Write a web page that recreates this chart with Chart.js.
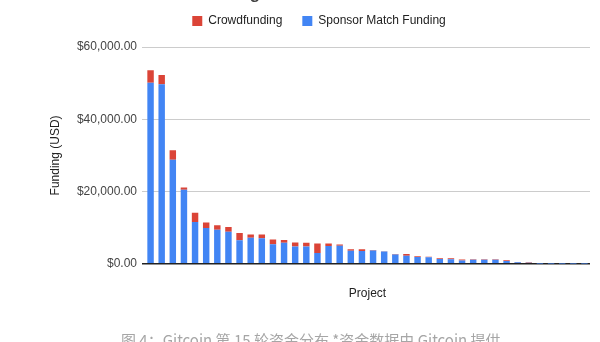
<!DOCTYPE html>
<html>
<head>
<meta charset="utf-8">
<title>GR15 Funding Distribution</title>
<script src="https://cdn.jsdelivr.net/npm/chart.js@4.4.1/dist/chart.umd.min.js"></script>
<style>
  html, body { margin: 0; padding: 0; background: #fff; overflow: hidden; }
  #wrap { position: relative; width: 600px; height: 342px; overflow: hidden; }
  #c { position: absolute; left: 0; top: 0; }
  #heading {
    position: absolute; left: 144px; top: -15px;
    font: bold 17px "Liberation Sans", Arial, sans-serif; line-height: 17px;
    color: #444; white-space: nowrap;
  }
  #caption {
    position: absolute; left: 121px; top: 332px;
    font: 15px "Noto Sans CJK SC", "Noto Sans", sans-serif; line-height: 15px;
    color: #a6a6a6; white-space: nowrap;
  }
</style>
</head>
<body>
<div id="wrap">
  <canvas id="c" width="600" height="342"></canvas>
  <div id="heading">GR15 Funding Distribution</div>
  <div id="caption">图 4：Gitcoin 第 15 轮资金分布 *资金数据由 Gitcoin 提供</div>
</div>
<script>
// One entry per project, sorted by total funding (USD)
const projects = Array.from({ length: 40 }, (_, i) => 'Project ' + (i + 1));

const sponsorMatch = [
  50100, 49700, 28800, 20500, 11600, 9900, 9400, 8850, 6550, 7200,
  7100, 5400, 5850, 4800, 4800, 3000, 4950, 5000, 3600, 3550,
  3700, 3400, 2600, 2200, 1900, 1800, 1300, 1250, 900, 1150,
  1150, 1100, 750, 400, 320, 40, 30, 20, 10, 10
];

const crowdfunding = [
  3450, 2550, 2650, 600, 2500, 1550, 1300, 1300, 2000, 900,
  1000, 1300, 750, 1100, 1000, 2600, 650, 350, 450, 500,
  100, 100, 80, 480, 220, 150, 270, 300, 300, 100,
  100, 150, 250, 120, 100, 0, 0, 0, 0, 0
];

const yTicks = [0, 20000, 40000, 60000];

const FONT = '"Liberation Sans", Arial, sans-serif';

const money = v => '$' + Number(v).toLocaleString('en-US', { minimumFractionDigits: 2, maximumFractionDigits: 2 });

// Moves the legend row up into the header band without changing the plot area
const legendNudge = {
  id: 'legendNudge',
  afterLayout(chart) {
    const lg = chart.legend;
    if (!lg) return;
    lg.top -= 10;
    lg.bottom -= 10;
  }
};

new Chart(document.getElementById('c'), {
  type: 'bar',
  data: {
    labels: projects,
    datasets: [
      {
        label: 'Sponsor Match Funding',
        data: sponsorMatch,
        backgroundColor: '#4285f4',
        barPercentage: 0.58,
        categoryPercentage: 1
      },
      {
        label: 'Crowdfunding',
        data: crowdfunding,
        backgroundColor: '#db4437',
        barPercentage: 0.58,
        categoryPercentage: 1
      }
    ]
  },
  options: {
    responsive: false,
    animation: false,
    devicePixelRatio: 1,
    layout: { padding: { left: 48, right: 10, top: 5, bottom: 40.8 } },
    plugins: {
      legend: {
        position: 'top',
        align: 'center',
        reverse: true,
        labels: {
          boxWidth: 10,
          boxHeight: 10,
          padding: 20,
          color: '#222',
          font: { family: FONT, size: 12 }
        }
      },
      tooltip: { enabled: false }
    },
    scales: {
      x: {
        stacked: true,
        grid: { display: false, drawTicks: false },
        border: { display: false },
        ticks: { display: false },
        title: {
          display: true,
          text: 'Project',
          color: '#222',
          font: { family: FONT, size: 12 },
          padding: { top: 23, bottom: 0 }
        }
      },
      y: {
        stacked: true,
        min: 0,
        max: 60000,
        afterBuildTicks(scale) {
          scale.ticks = yTicks.map(v => ({ value: v }));
        },
        afterFit(scale) { scale.width = 97; },
        grid: {
          color: ctx => (ctx.tick && ctx.tick.value === 0 ? '#222' : '#cccccc'),
          lineWidth: ctx => (ctx.tick && ctx.tick.value === 0 ? 1.5 : 1),
          drawTicks: true,
          tickLength: 3
        },
        border: { display: false },
        ticks: {
          padding: 5,
          color: '#444',
          font: { family: FONT, size: 12 },
          callback: v => money(v)
        },
        title: {
          display: true,
          text: 'Funding (USD)',
          color: '#222',
          font: { family: FONT, size: 12 },
          padding: { top: 0, bottom: 0 }
        }
      }
    }
  },
  plugins: [legendNudge]
});
</script>
</body>
</html>
